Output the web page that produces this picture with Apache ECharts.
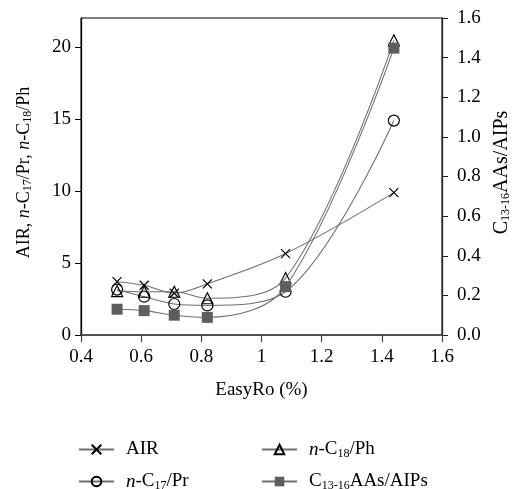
<!DOCTYPE html>
<html>
<head>
<meta charset="utf-8">
<script src="https://cdn.jsdelivr.net/npm/echarts@6/dist/echarts.min.js"></script>
<style>
  html, body { margin: 0; padding: 0; background: #fff; }
  #chart { width: 514px; height: 489px; }
</style>
</head>
<body>
<div id="chart"></div>
<script>
// EasyRo (%) maturity levels
const easyRo = [0.52, 0.61, 0.71, 0.82, 1.08, 1.44];
// Ratios on the left axis
const air = [3.7, 3.45, 2.9, 3.55, 5.65, 9.88];
const nC17Pr = [3.15, 2.66, 2.15, 2.05, 3.0, 14.88];
const nC18Ph = [3.05, 3.0, 3.0, 2.55, 3.95, 20.45];
// Ratio on the right axis
const aasAips = [0.13, 0.123, 0.10, 0.089, 0.244, 1.448];

const leftTicks = [0, 5, 10, 15, 20];

const FONT = '"Liberation Serif", "DejaVu Serif", serif';
const FS = 19;
const LINE = '#707070';

const rich = {
  i: { fontStyle: 'italic', fontFamily: FONT, fontSize: FS, color: '#000' },
  s: { fontSize: 12, fontFamily: FONT, color: '#000', padding: [8, 0, 0, 0] }
};
const richTitle = {
  i: { fontStyle: 'italic', fontFamily: FONT, fontSize: 18, color: '#000' },
  s: { fontSize: 12, fontFamily: FONT, color: '#000', padding: [8, 0, 0, 0] }
};

const labels = {
  'AIR': 'AIR',
  'n-C17/Pr': '{i|n}-C{s|17}/Pr',
  'n-C18/Ph': '{i|n}-C{s|18}/Ph',
  'C13-16AAs/AIPs': 'C{s|13-16}AAs/AIPs'
};

const onRo = ys => easyRo.map((x, k) => [x, ys[k]]);

const crossPath = 'path://M0,0L10,10M10,0L0,10';

function series(name, data, symbol, size, fill, yIndex, z) {
  const hollow = fill === 'transparent';
  return {
    name, type: 'line', data: onRo(data), yAxisIndex: yIndex,
    smooth: 0.35, symbol, symbolSize: size, z,
    lineStyle: { color: LINE, width: 1.1 },
    itemStyle: { color: fill, borderColor: hollow ? '#000' : fill, borderWidth: hollow ? 1.2 : 0 }
  };
}

// one legend entry per block, laid out as two columns
function legendAt(name, left, top) {
  return {
    left, top, data: [name],
    itemWidth: 35, itemHeight: 12,
    textStyle: { fontFamily: FONT, fontSize: FS, color: '#000', padding: [0, 0, 0, 7], rich },
    formatter: n => labels[n]
  };
}

const chart = echarts.init(document.getElementById('chart'));
chart.setOption({
  animation: false,
  backgroundColor: '#fff',
  grid: { left: 81, right: 72, top: 18, bottom: 154, outerBoundsMode: 'none', containLabel: false,
    show: true, borderColor: '#000', borderWidth: 1 },
  legend: [
    legendAt('AIR', 73, 435),
    legendAt('n-C17/Pr', 73, 467),
    legendAt('n-C18/Ph', 256, 435),
    legendAt('C13-16AAs/AIPs', 256, 467)
  ],
  xAxis: {
    type: 'value', min: 0.4, max: 1.6, interval: 0.2,
    name: 'EasyRo (%)', nameLocation: 'middle', nameGap: 46,
    nameTextStyle: { fontFamily: FONT, fontSize: FS, color: '#000' },
    axisLine: { lineStyle: { color: '#444', width: 1.5 } },
    axisTick: { inside: false, length: 7, lineStyle: { color: '#444', width: 1.2 } },
    axisLabel: { fontFamily: FONT, fontSize: FS, color: '#000', margin: 13,
      formatter: v => String(Math.round(v * 10) / 10) },
    splitLine: { show: false }
  },
  yAxis: [
    {
      type: 'value', min: 0, max: 22, position: 'left',
      name: 'AIR, {i|n}-C{s|17}/Pr, {i|n}-C{s|18}/Ph', nameLocation: 'middle', nameGap: 47, nameRotate: 90,
      nameTextStyle: { fontFamily: FONT, fontSize: 18, color: '#000', rich: richTitle, padding: [0, 0, 0, 8] },
      axisLine: { show: true, lineStyle: { color: '#000', width: 1.3 } },
      axisTick: { show: true, length: 6, customValues: leftTicks, lineStyle: { color: '#000' } },
      axisLabel: { fontFamily: FONT, fontSize: FS, color: '#000', margin: 10, customValues: leftTicks },
      splitLine: { show: false }
    },
    {
      type: 'value', min: 0, max: 1.6, interval: 0.2, position: 'right',
      name: 'C{s|13-16}AAs/AIPs', nameLocation: 'middle', nameGap: 33, nameRotate: 90,
      nameTextStyle: { fontFamily: FONT, fontSize: 20, color: '#000', rich: richTitle, padding: [0, 0, 0, 8] },
      axisLine: { show: true, lineStyle: { color: '#222', width: 1.3 } },
      axisTick: { show: true, length: 6, lineStyle: { color: '#222' } },
      axisLabel: { fontFamily: FONT, fontSize: FS, color: '#000', margin: 15,
        formatter: v => v.toFixed(1) },
      splitLine: { show: false }
    }
  ],
  series: [
    series('AIR', air, crossPath, 9, 'transparent', 0, 2),
    series('n-C17/Pr', nC17Pr, 'circle', 11, 'transparent', 0, 3),
    series('n-C18/Ph', nC18Ph, 'triangle', 11, 'transparent', 0, 4),
    series('C13-16AAs/AIPs', aasAips, 'rect', 11, '#5e5e60', 1, 5)
  ]
});
</script>
</body>
</html>
